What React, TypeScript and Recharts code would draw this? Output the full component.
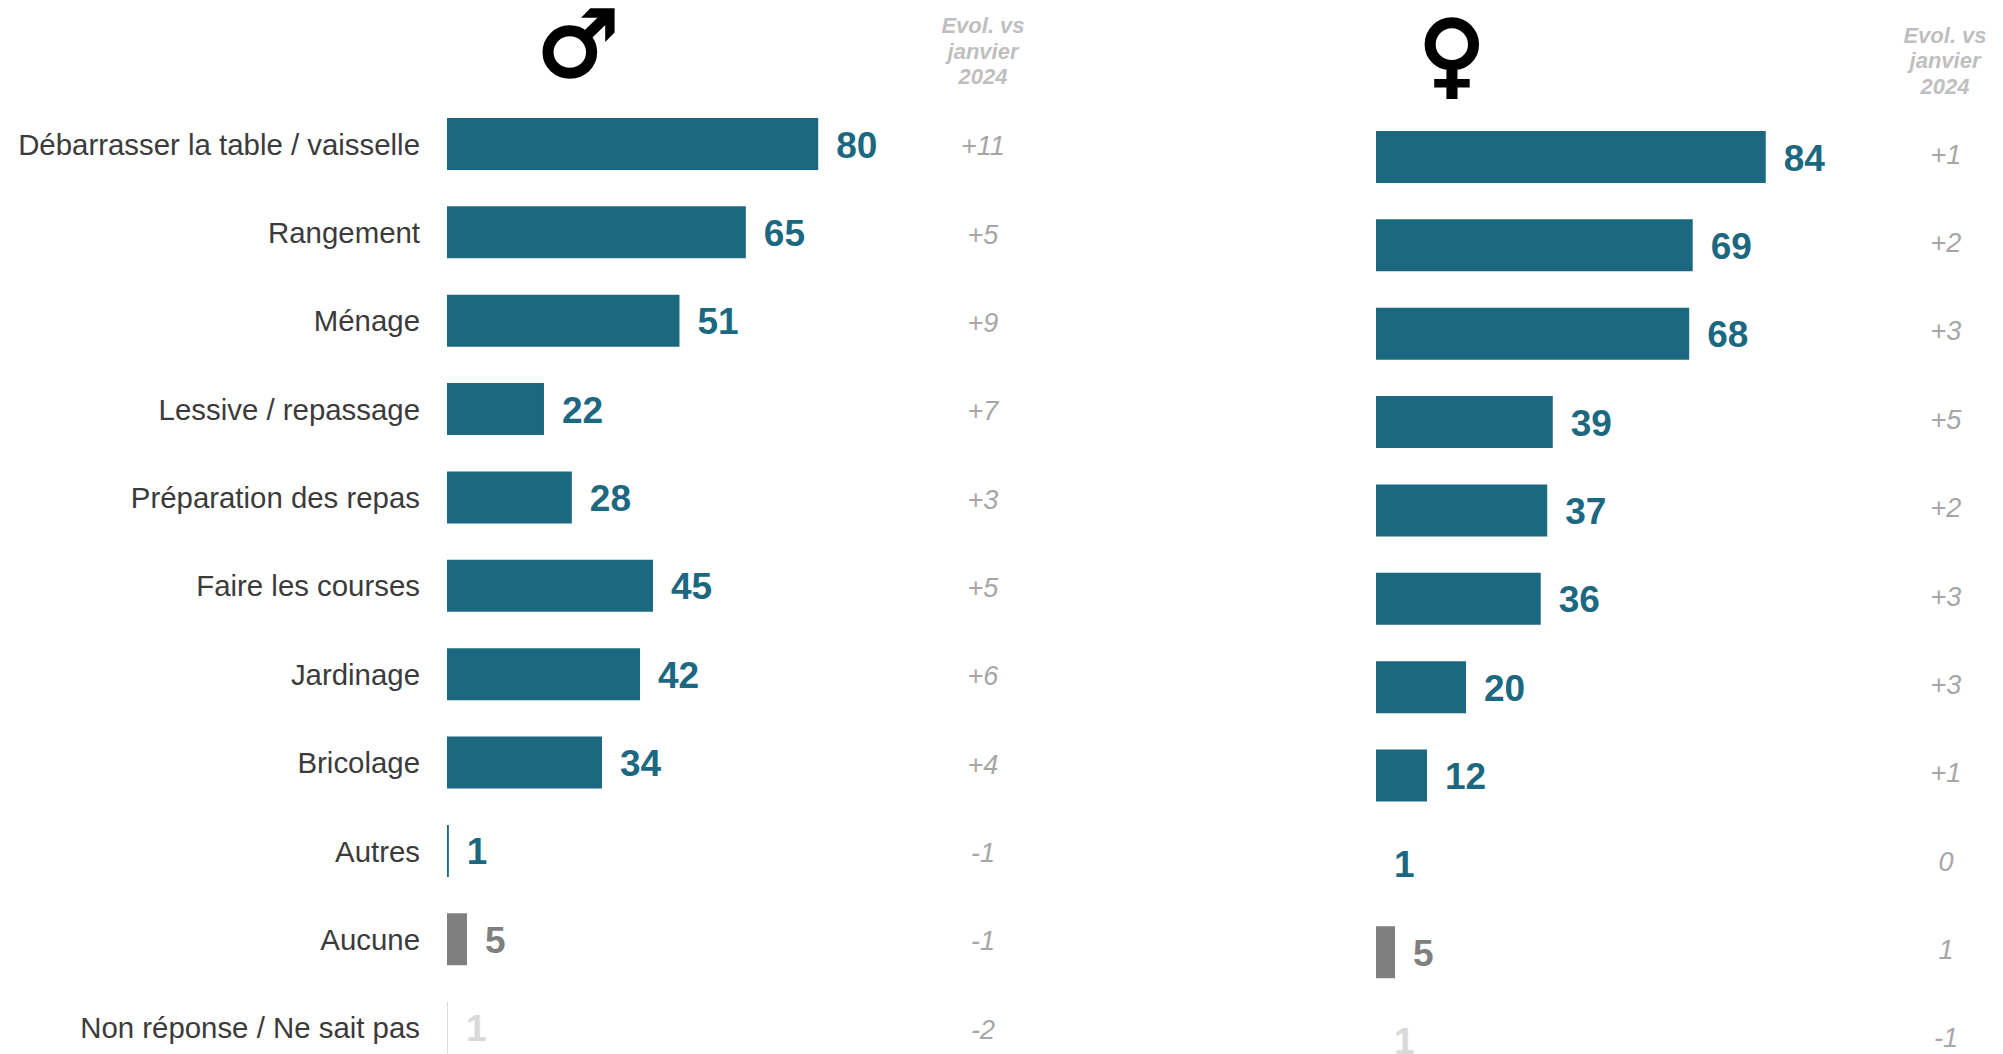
import { BarChart, Bar, Cell, LabelList, XAxis, YAxis } from 'recharts'

const tasks = ['Débarrasser la table / vaisselle', 'Rangement', 'Ménage', 'Lessive / repassage', 'Préparation des repas', 'Faire les courses', 'Jardinage', 'Bricolage', 'Autres', 'Aucune', 'Non réponse / Ne sait pas']

// bar lengths, they sit slightly off the printed numbers
const menBars = [80, 64.4, 50.1, 20.9, 26.9, 44.4, 41.6, 33.4, 0.4, 4.3, 0.2]
const menLabels = [80, 65, 51, 22, 28, 45, 42, 34, 1, 5, 1]
const menEvol = ['+11', '+5', '+9', '+7', '+3', '+5', '+6', '+4', '-1', '-1', '-2']

// the two "1" rows show no visible bar here
const womenBars = [84, 68.25, 67.5, 38.1, 36.9, 35.5, 19.4, 11, 0.002, 4.1, 0.002]
const womenLabels = [84, 69, 68, 39, 37, 36, 20, 12, 1, 5, 1]
const womenEvol = ['+1', '+2', '+3', '+5', '+2', '+3', '+3', '+1', '0', '1', '-1']

const evolHeader = ['Evol. vs', 'janvier', '2024']

const FONT = '"Liberation Sans", Arial, sans-serif'
const TEAL = '#1b6880'
const GREY = '#7f7f7f'
const LIGHT = '#d9d9d9'

const rowColor = (i: number) => (i === 9 ? GREY : i === 10 ? LIGHT : TEAL)

const menData = tasks.map((task, i) => ({ task, value: menBars[i], label: menLabels[i], evol: menEvol[i] }))
const womenData = tasks.map((task, i) => ({ task, value: womenBars[i], label: womenLabels[i], evol: womenEvol[i] }))

function EvolTick({ x, y, payload, dx, dy }: any) {
  return (
    <text x={x + dx} y={y + dy} textAnchor="middle" dominantBaseline="central" fontFamily={FONT} fontSize={27} fontStyle="italic" fill="#a6a6a6">
      {payload.value}
    </text>
  )
}

function ValueLabel({ x, y, width, height, value, index }: any) {
  return (
    <text x={x + width + 18} y={y + height / 2 + 1} dominantBaseline="central" fontFamily={FONT} fontSize={37} fontWeight="bold" fill={rowColor(index)}>
      {value}
    </text>
  )
}

function Header({ x, y }: { x: number; y: number }) {
  return (
    <>
      {evolHeader.map((line, i) => (
        <text key={line} x={x} y={y + i * 25.5} textAnchor="middle" dominantBaseline="central" fontFamily={FONT} fontSize={22} fontWeight="bold" fontStyle="italic" fill="#bfbfbf">
          {line}
        </text>
      ))}
    </>
  )
}

export default function App() {
  return (
    <div style={{ position: 'absolute', left: 0, top: 0, width: 2003, height: 1054, overflow: 'hidden', background: '#fff' }}>
      {/* Men */}
      <div style={{ position: 'absolute', left: 0, top: 0 }}>
        <BarChart width={1040} height={1072} data={menData} layout="vertical" margin={{ top: 100, right: 0, bottom: 0, left: 0 }}>
          <XAxis type="number" domain={[0, 100]} hide />
          <YAxis type="category" dataKey="task" width={447} axisLine={false} tickLine={false} tickMargin={21} interval={0} tick={{ fontFamily: FONT, fontSize: 29.4, fill: '#3b3b3b' }} />
          <YAxis yAxisId="evol" orientation="right" type="category" dataKey="evol" width={129} axisLine={false} tickLine={false} interval={0} tick={<EvolTick dx={64} dy={2} />} />
          <Bar dataKey="value" barSize={52} isAnimationActive={false}>
            {menData.map((d, i) => <Cell key={d.task} fill={rowColor(i)} />)}
            <LabelList dataKey="label" content={<ValueLabel />} />
          </Bar>
          <text x={578} y={44} textAnchor="middle" dominantBaseline="central" fontFamily="DejaVu Sans" fontSize={92} fill="#000" stroke="#000" strokeWidth={3}>♂</text>
          <Header x={983} y={25.5} />
        </BarChart>
      </div>

      {/* Women */}
      <div style={{ position: 'absolute', left: 1376, top: 0 }}>
        <BarChart width={627} height={1085} data={womenData} layout="vertical" margin={{ top: 113, right: 0, bottom: 0, left: 0 }}>
          <XAxis type="number" domain={[0, 100]} hide />
          <YAxis type="category" dataKey="task" width={0} hide />
          <YAxis yAxisId="evol" orientation="right" type="category" dataKey="evol" width={163} axisLine={false} tickLine={false} interval={0} tick={<EvolTick dx={98} dy={-2.5} />} />
          <Bar dataKey="value" barSize={52} isAnimationActive={false}>
            {womenData.map((d, i) => <Cell key={d.task} fill={rowColor(i)} />)}
            <LabelList dataKey="label" content={<ValueLabel />} />
          </Bar>
          <text x={76} y={54} textAnchor="middle" dominantBaseline="central" fontFamily="DejaVu Sans" fontSize={92} fill="#000" stroke="#000" strokeWidth={3}>♀</text>
          <Header x={569} y={35} />
        </BarChart>
      </div>
    </div>
  )
}
